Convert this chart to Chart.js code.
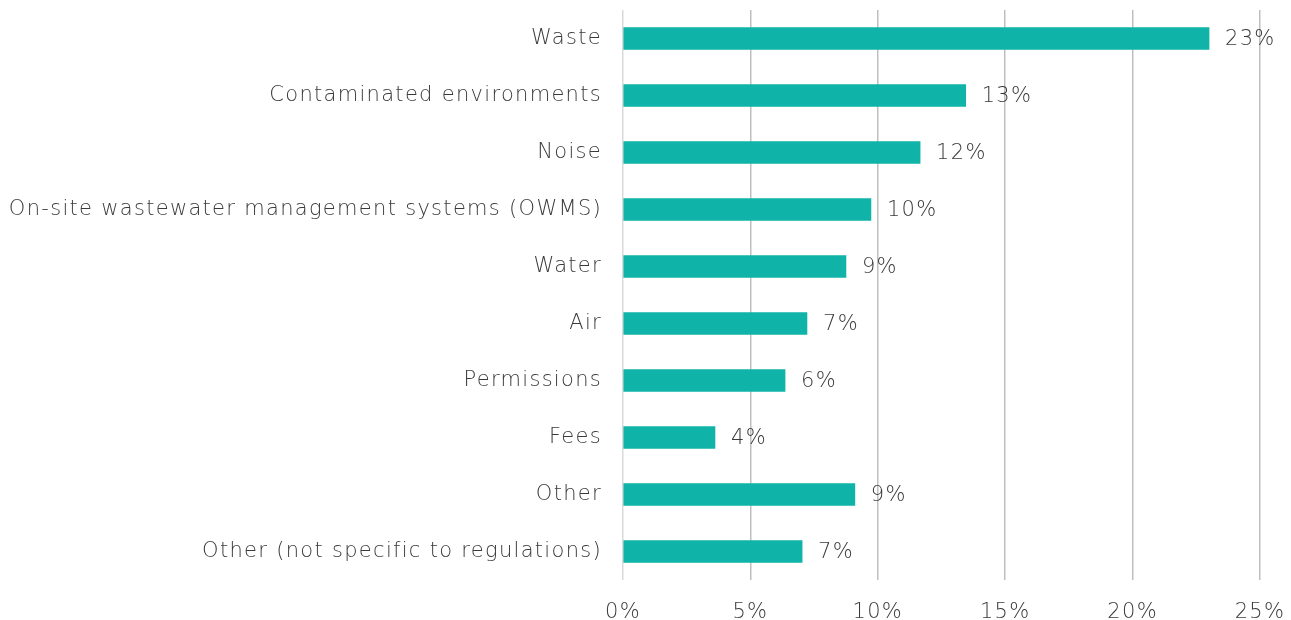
<!DOCTYPE html>
<html>
<head>
<meta charset="utf-8">
<script src="https://cdn.jsdelivr.net/npm/chart.js@4.4.1/dist/chart.umd.min.js"></script>
<style>
  html, body { margin: 0; padding: 0; background: #fff; }
  #wrap { width: 1291px; height: 620px; position: relative; }
</style>
</head>
<body>
<div id="wrap"><canvas id="chart"></canvas></div>
<script>
const categories = [
    "Waste",
    "Contaminated environments",
    "Noise",
    "On-site wastewater management systems (OWMS)",
    "Water",
    "Air",
    "Permissions",
    "Fees",
    "Other",
    "Other (not specific to regulations)"
];
const values = [23.0, 13.45, 11.66, 9.73, 8.75, 7.22, 6.36, 3.61, 9.1, 7.03];
const xTicks = [0, 5, 10, 15, 20, 25];

const teal = "#0fb3a8";
const textColor = "#3a3a3a";
const fontFamily = "'DejaVu Sans', sans-serif";
const fontWeight = "200";
const fontSize = 21;

// wider letter spacing to mimic the geometric font of the original
const spacing = {
    id: "spacing",
    beforeDraw(chart) { chart.ctx.letterSpacing = "1.3px"; }
};

const valueLabels = {
    id: "valueLabels",
    afterDatasetsDraw(chart) {
        const ctx = chart.ctx;
        const meta = chart.getDatasetMeta(0);
        ctx.save();
        ctx.font = fontWeight + " " + fontSize + "px " + fontFamily;
        ctx.fillStyle = textColor;
        ctx.textAlign = "left";
        ctx.textBaseline = "middle";
        meta.data.forEach((bar, i) => {
            ctx.fillText(Math.round(values[i]) + "%", bar.x + 16, bar.y + 1);
        });
        ctx.restore();
    }
};

new Chart(document.getElementById("chart"), {
    type: "bar",
    data: {
        labels: categories,
        datasets: [{
            data: values,
            backgroundColor: teal,
            borderWidth: 0,
            barThickness: 22
        }]
    },
    options: {
        indexAxis: "y",
        responsive: true,
        maintainAspectRatio: false,
        animation: false,
        layout: { padding: { top: 10, right: 31, left: 0, bottom: 0 } },
        plugins: { legend: { display: false }, tooltip: { enabled: false } },
        scales: {
            x: {
                min: 0,
                max: 25,
                afterBuildTicks: (axis) => { axis.ticks = xTicks.map((v) => ({ value: v })); },
                afterFit: (axis) => {
                    axis.height = 40;
                    axis.paddingLeft = 0;
                    axis.paddingRight = 0;
                },
                grid: {
                    drawTicks: false,
                    color: (c) => (c.tick && c.tick.value === 0 ? "#d9d9d9" : "#bfbfbf"),
                    lineWidth: 1.5
                },
                border: { display: false },
                ticks: {
                    padding: 20,
                    color: textColor,
                    font: { family: fontFamily, size: fontSize, weight: fontWeight },
                    callback: (v) => v + "%"
                }
            },
            y: {
                afterFit: (axis) => {
                    axis.width = 623;
                    axis.paddingTop = 0;
                    axis.paddingBottom = 0;
                },
                grid: { display: false, drawTicks: false },
                border: { display: false },
                ticks: {
                    padding: 21,
                    color: textColor,
                    font: { family: fontFamily, size: fontSize, weight: fontWeight }
                }
            }
        }
    },
    plugins: [spacing, valueLabels]
});
</script>
</body>
</html>
